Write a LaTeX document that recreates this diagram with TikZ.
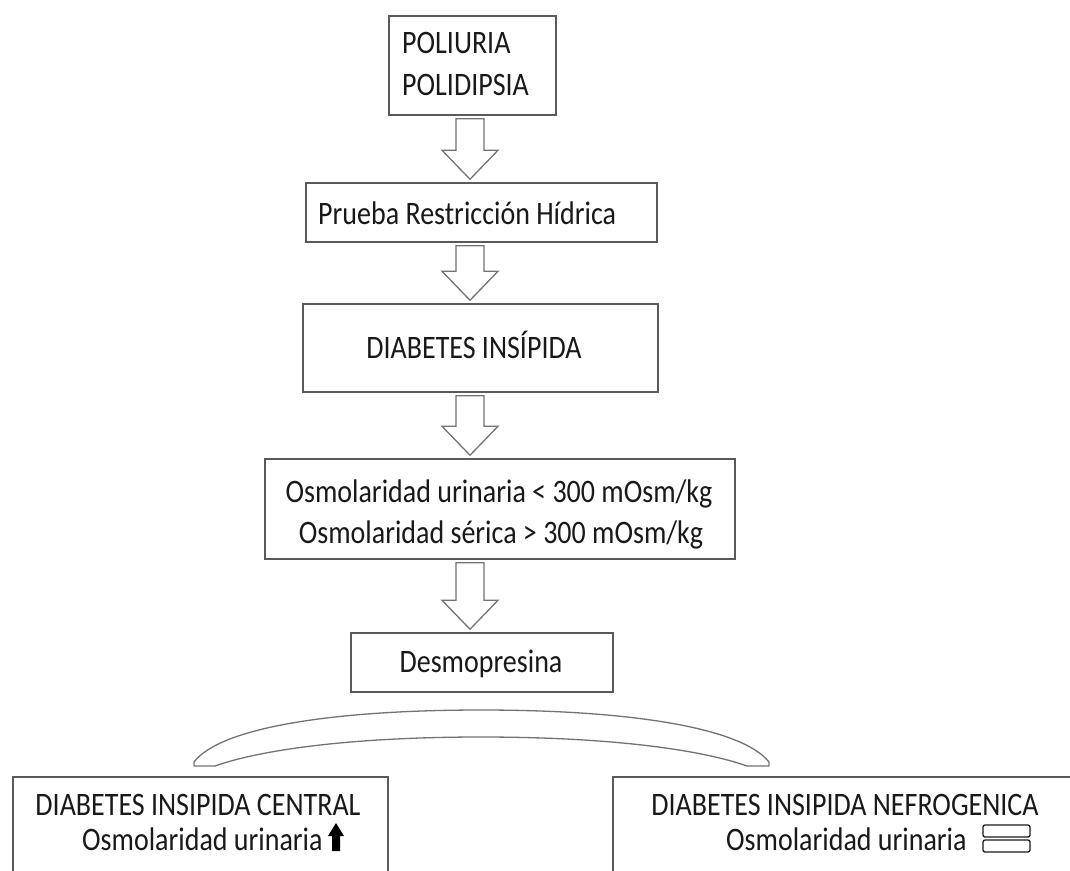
\documentclass[tikz,border=0pt]{standalone}
\usepackage{fontspec}
\usepackage{graphicx}
\setmainfont{Carlito}
\usetikzlibrary{calc}
\definecolor{boxline}{RGB}{90,90,90}
\definecolor{arrline}{RGB}{115,115,115}
\definecolor{ink}{RGB}{25,25,25}
\tikzset{
  box/.style={draw=boxline, line width=1.5pt, rectangle, inner sep=0pt, fill=white},
  txt/.style={font=\fontsize{28}{34}\selectfont, text=ink, inner sep=0pt},
  barrow/.style={draw=arrline, line width=1.3pt, fill=white, line join=miter},
}
\newcommand{\TT}[1]{\scalebox{1}[1.17]{#1}}
\newcommand{\blockarr}[2]{%
  \draw[barrow]
    ($(#1.south -| ax)+(-14,3)$) -- ($(#1.south -| ax)+(14,3)$) --
    ($(#2.north -| ax)+(14,-32)$) -- ($(#2.north -| ax)+(28,-32)$) --
    ($(#2.north -| ax)+(0,-3)$) --
    ($(#2.north -| ax)+(-28,-32)$) -- ($(#2.north -| ax)+(-14,-32)$) -- cycle;}
\begin{document}
\begin{tikzpicture}[x=1pt,y=-1pt]
\useasboundingbox (0,0) rectangle (1070,870);
\clip (0,0) rectangle (1070,870);
\fill[white] (0,0) rectangle (1070,870);
\coordinate (ax) at (470,0);

% boxes
\node[box, minimum width=167pt, minimum height=99pt] (p1) at (472.5,65.5) {};
\node[box, minimum width=351pt, minimum height=59pt] (p2) at (481.5,212.5) {};
\node[box, minimum width=355pt, minimum height=88pt] (p3) at (480.5,348) {};
\node[box, minimum width=470pt, minimum height=100pt] (p4) at (500,509) {};
\node[box, minimum width=262pt, minimum height=59pt] (p5) at (482,662.5) {};
\node[box, minimum width=375pt, minimum height=130pt] (c) at (200.5,842) {};
\node[box, minimum width=477pt, minimum height=130pt] (n) at (851.5,842) {};

% texts
\node[txt, anchor=base west] (t1a) at (402,53) {\TT{POLIURIA}};
\node[txt, anchor=base west] (t1b) at (402,95) {\TT{POLIDIPSIA}};
\node[txt, anchor=base west] (t2) at (318,224) {\TT{Prueba Restricción Hídrica}};
\node[txt, anchor=base] (t3) at (474,358) {\TT{DIABETES INSÍPIDA}};
\node[txt, anchor=base] (t4a) at (499,502) {\TT{Osmolaridad urinaria < 300 mOsm/kg}};
\node[txt, anchor=base] (t4b) at (501,543) {\TT{Osmolaridad sérica > 300 mOsm/kg}};
\node[txt, anchor=base] (t5) at (481,672) {\TT{Desmopresina}};
\node[txt, anchor=base] (tca) at (198,815) {\TT{DIABETES INSIPIDA CENTRAL}};
\node[txt, anchor=base west] (tcb) at (82,850) {\TT{Osmolaridad urinaria}};
\node[txt, anchor=base] (tna) at (845,815) {\TT{DIABETES INSIPIDA NEFROGENICA}};
\node[txt, anchor=base west] (tnb) at (726,850) {\TT{Osmolaridad urinaria}};

% block arrows
\blockarr{p1}{p2}
\blockarr{p2}{p3}
\blockarr{p3}{p4}
\blockarr{p4}{p5}

% curved band
\draw[draw=arrline, line width=1.3pt, fill=white, line join=round]
  (215,766) .. controls (260,750) and (350,737) .. (481,737)
  .. controls (612,737) and (702,750) .. (747,766)
  -- (769,766) -- (769,762)
  .. controls (742,728) and (632,710) .. (481,710)
  .. controls (330,710) and (220,728) .. (194,762)
  -- (194,766) -- cycle;

% black up arrow (central)
\fill[black] (336,823) -- (344,836) -- (340,836) -- (340,851) -- (332,851) -- (332,836) -- (328,836) -- cycle;

% equals symbol (nefrogenica)
\draw[ink, line width=1.3pt, rounded corners=2pt] (983,825) rectangle (1030,837);
\draw[ink, line width=1.3pt, rounded corners=2pt] (983,840) rectangle (1030,852);
\end{tikzpicture}
\end{document}
